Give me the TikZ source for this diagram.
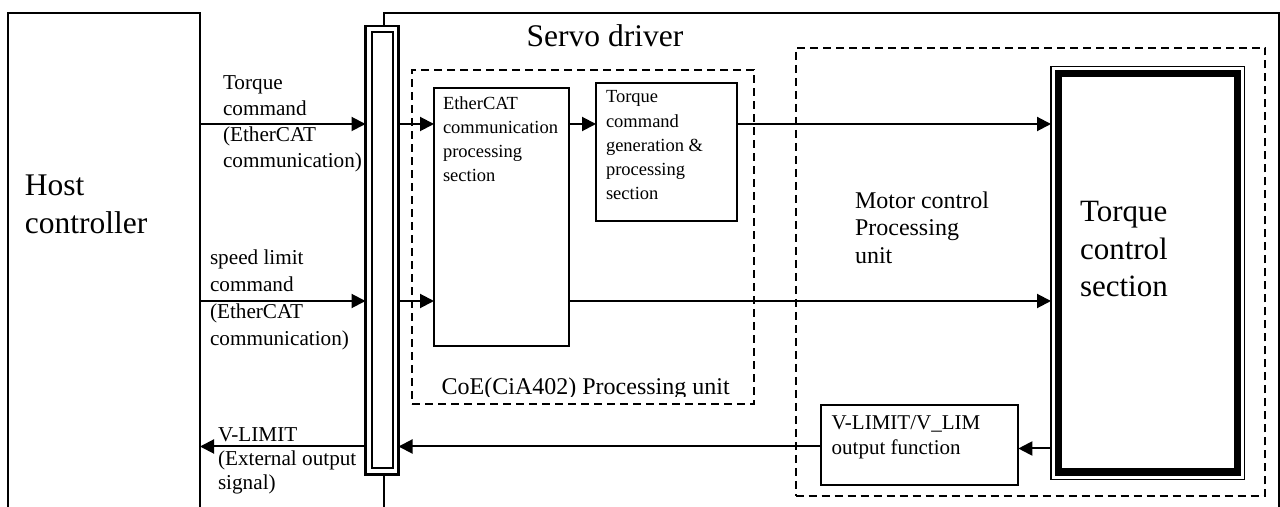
\documentclass[tikz,border=0pt]{standalone}
\usepackage{fontspec}
\setmainfont{Liberation Serif}
\usetikzlibrary{arrows.meta}
\begin{document}
\begin{tikzpicture}[x=0.5pt,y=-0.5pt,
  box/.style={draw, line width=0.9pt, rectangle, anchor=north west, inner sep=0pt, outer sep=0pt, fill=white},
  dbox/.style={draw, line width=0.85pt, dash pattern=on 4pt off 2.5pt, rectangle, anchor=north west, inner sep=0pt, outer sep=0pt},
  arr/.style={line width=1pt, -{Triangle[length=7pt,width=7pt]}},
  txt/.style={anchor=base west, inner sep=0pt, outer sep=0pt, align=left},
  bigf/.style={font=\fontsize{15.75}{19}\selectfont},
  lblf/.style={font=\fontsize{10.6}{13}\selectfont},
  boxf/.style={font=\fontsize{9.25}{12}\selectfont},
  midf/.style={font=\fontsize{12}{13.75}\selectfont}
]
\useasboundingbox (0,0) rectangle (1280,507);

% rows
\coordinate (r1) at (0,124);
\coordinate (r2) at (0,301);
\coordinate (r3) at (0,446.5);
\coordinate (r4) at (0,448.5);

% main boxes
\node[box, minimum width=96pt, minimum height=270pt] (host) at (8,13) {};
\node[box, minimum width=447.5pt, minimum height=270pt] (servo) at (384,13) {};

% bus bar
\node[box, line width=1.1pt, minimum width=16.5pt, minimum height=224.25pt] (bar) at (365.5,26) {};
\node[box, minimum width=10.65pt, minimum height=218.15pt] (barin) at (371.7,32) {};

% dashed units
\node[dbox, minimum width=170.85pt, minimum height=167.15pt] (coe) at (412.3,70) {};
\node[dbox, minimum width=234.65pt, minimum height=224.15pt] (motor) at (795.7,47.7) {};

% inner blocks
\node[box, minimum width=67.65pt, minimum height=128.85pt] (eth) at (434,88.3) {};
\node[box, minimum width=70.35pt, minimum height=68.85pt] (tgen) at (596,83.3) {};
\node[box, minimum width=98.65pt, minimum height=40pt] (vl) at (821,405) {};
\node[box, line width=0.7pt, minimum width=96.85pt, minimum height=206.6pt] (tc) at (1051,66.3) {};
\draw[line width=3.7pt] ([shift={(7.5,7.5)}]tc.north west) rectangle ([shift={(-7.5,-7.5)}]tc.south east);

% texts (anchor = baseline of last line)
\node[txt, bigf] (hosttxt) at (25,233.3) {Host\\controller};
\node[txt, bigf] (servotxt) at (526.7,46.7) {Servo driver};
\node[txt, lblf] (l1) at (223,168) {Torque\\command\\(EtherCAT\\communication)};
\node[txt, font=\fontsize{10.6}{13.5}\selectfont] (l2) at (210,346) {speed limit\\command\\(EtherCAT\\communication)};
\node[txt, font=\fontsize{10.6}{12.2}\selectfont] (l3) at (218,490) {V-LIMIT\\(External output\\signal)};
\node[txt, boxf] (ethtxt) at (443,182) {EtherCAT\\communication\\processing\\section};
\node[txt, font=\fontsize{9.25}{12.15}\selectfont] (tgentxt) at (606,200) {Torque\\command\\generation \&\\processing\\section};
\node[txt, midf] (motortxt) at (855,263.3) {Motor control\\Processing\\unit};
\node[txt, font=\fontsize{15.5}{18.75}\selectfont] (tctxt) at (1080,296.7) {Torque\\control\\section};
\node[txt, font=\fontsize{10.5}{12.5}\selectfont] (vltxt) at (831.7,455) {V-LIMIT/V\_LIM\\output function};
\begin{scope}
\clip (412,60) rectangle (754,396.7);
\node[txt, midf] (coetxt) at (441.7,395) {CoE(CiA402) Processing unit};
\end{scope}

% connectors
\draw[arr] (host.east |- r1) -- (bar.west |- r1);
\draw[arr] (bar.east |- r1) -- (eth.west |- r1);
\draw[arr] (eth.east |- r1) -- (tgen.west |- r1);
\draw[arr] (tgen.east |- r1) -- (tc.west |- r1);
\draw[arr] (host.east |- r2) -- (bar.west |- r2);
\draw[arr] (bar.east |- r2) -- (eth.west |- r2);
\draw[arr] (eth.east |- r2) -- (tc.west |- r2);
\draw[arr] (bar.west |- r3) -- (host.east |- r3);
\draw[arr] (vl.west |- r3) -- (bar.east |- r3);
\draw[arr] (tc.west |- r4) -- (vl.east |- r4);
\end{tikzpicture}
\end{document}
